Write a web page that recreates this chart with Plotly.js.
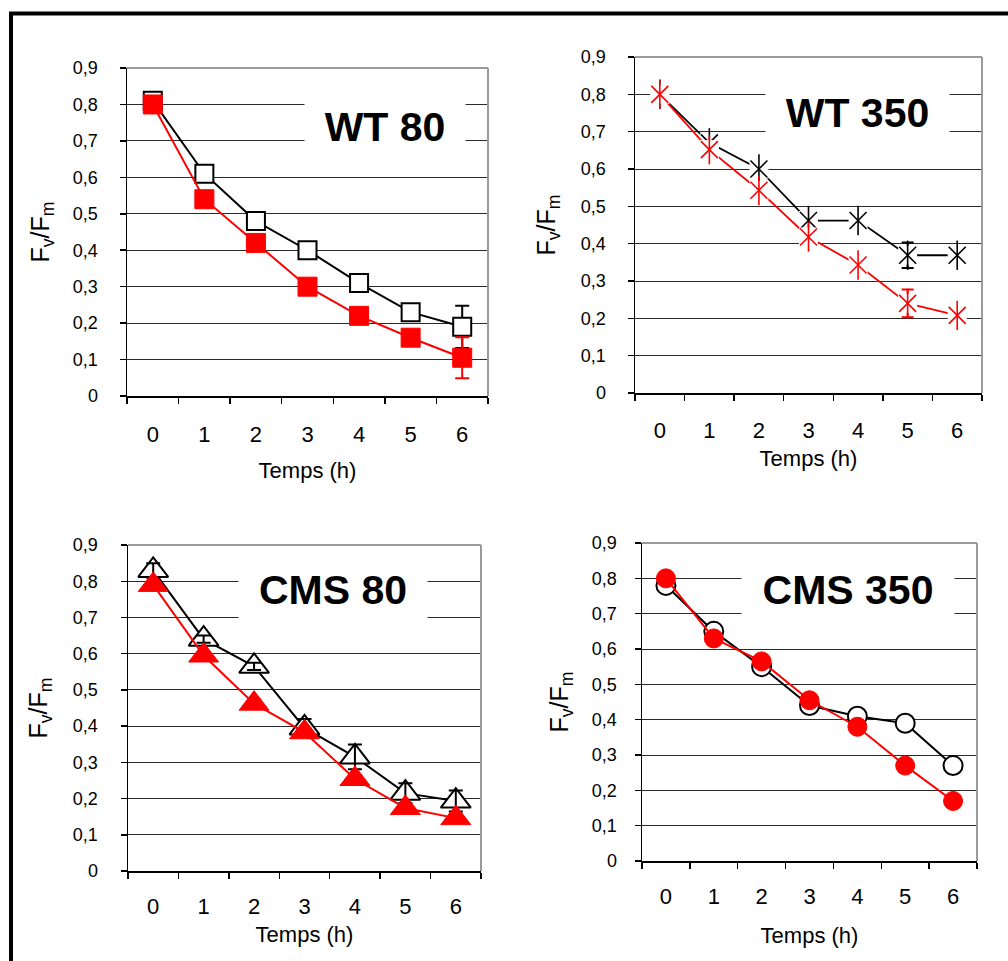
<!DOCTYPE html>
<html>
<head>
<meta charset="utf-8">
<script src="https://cdn.plot.ly/plotly-3.0.1.min.js"></script>
<style>html,body{margin:0;padding:0;background:#fff;}#chart{width:1008px;height:961px;}</style>
</head>
<body>
<div id="chart"></div>
<script>
// ---- data ----
var hours = [0, 1, 2, 3, 4, 5, 6];
var hourLabels = ['0', '1', '2', '3', '4', '5', '6'];
var panelTitles = ['WT 80', 'WT 350', 'CMS 80', 'CMS 350'];
var xTitle = 'Temps (h)';
var yTitle = 'F<sub>v</sub>/F<sub>m</sub>';

var wt80Black = [0.81, 0.61, 0.48, 0.40, 0.31, 0.23, 0.19];
var wt80BlackErr = [0.01, 0.01, 0.01, 0.01, 0.01, 0.01, 0.058];
var wt80Red = [0.80, 0.54, 0.42, 0.30, 0.22, 0.16, 0.105];
var wt80RedErr = [0.01, 0.01, 0.01, 0.01, 0.01, 0.01, 0.056];

var wt350Black = [0.80, 0.67, 0.60, 0.462, 0.462, 0.369, 0.369];
var wt350BlackErr = [0.005, 0.01, 0.01, 0.01, 0.01, 0.034, 0.01];
var wt350Red = [0.80, 0.652, 0.543, 0.418, 0.343, 0.24, 0.208];
var wt350RedErr = [0.005, 0.01, 0.01, 0.01, 0.01, 0.037, 0.01];

var cms80Black = [0.83, 0.64, 0.565, 0.395, 0.315, 0.215, 0.193];
var cms80BlackErr = [0.02, 0.01, 0.01, 0.025, 0.034, 0.027, 0.029];
var cms80Red = [0.79, 0.595, 0.462, 0.383, 0.254, 0.174, 0.146];
var cms80RedErr = [0.01, 0.01, 0.012, 0.01, 0.01, 0.01, 0.01];

var cms350Black = [0.78, 0.65, 0.55, 0.44, 0.41, 0.39, 0.27];
var cms350BlackErr = [0.01, 0.01, 0.01, 0.01, 0.01, 0.015, 0.015];
var cms350Red = [0.80, 0.63, 0.565, 0.455, 0.38, 0.27, 0.17];
var cms350RedErr = [0.01, 0.01, 0.01, 0.01, 0.015, 0.015, 0.015];

// ---- styling ----
var FONT = 'Arial, "Liberation Sans", Helvetica, sans-serif';
var RED = '#ff0000';
var W = 1008, H = 961;
function dx(a, b) { return [a / W, b / W]; }
function dy(top, bottom) { return [1 - bottom / H, 1 - top / H]; }

var boundaries = hours.map(function (h) { return h - 0.5; }).concat([hours[hours.length - 1] + 0.5]);

function xAxis(domain, anchor, lblStandoff, titleStandoff) {
  return {
    domain: domain, anchor: anchor, range: [-0.5, 6.5],
    tickmode: 'array', tickvals: hours, ticktext: hourLabels, ticks: '',
    showgrid: false, zeroline: false, showline: true, linecolor: '#000', linewidth: 1.5,
    tickfont: { size: 22, family: FONT, color: '#000' }, ticklabelstandoff: lblStandoff,
    minor: { tickmode: 'array', tickvals: boundaries, ticks: 'outside', ticklen: 6, tickwidth: 1.5, tickcolor: '#000', showgrid: false },
    title: { text: xTitle, font: { size: 22, family: FONT, color: '#000' }, standoff: titleStandoff },
    fixedrange: true
  };
}
function yAxis(domain, anchor, lblStandoff, titleStandoff) {
  return {
    domain: domain, anchor: anchor, range: [0, 0.9001], tick0: 0, dtick: 0.1,
    ticks: 'outside', ticklen: 6, tickwidth: 1.5, tickcolor: '#000',
    showline: true, linecolor: '#000', linewidth: 1.5, zeroline: false,
    showgrid: true, gridcolor: '#2a2a2a', gridwidth: 1,
    tickfont: { size: 18, family: FONT, color: '#000' }, ticklabelstandoff: lblStandoff,
    title: { text: yTitle, font: { size: 25, family: FONT, color: '#000' }, standoff: titleStandoff },
    fixedrange: true
  };
}

function errObj(arr, color, visibleW) {
  return { type: 'data', array: arr, visible: true, color: color, thickness: 2, width: visibleW };
}

var traces = [];
function base(xa, ya) { return { x: hours, xaxis: xa, yaxis: ya, showlegend: false, hoverinfo: 'skip', type: 'scatter' }; }

// Panel 1: WT 80 (squares)
traces.push(Object.assign(base('x', 'y'), { y: wt80Black, mode: 'lines+markers', line: { color: '#000', width: 2 },
  marker: { symbol: 'square', size: 18, color: '#fff', line: { color: '#000', width: 2 } }, error_y: errObj(wt80BlackErr, '#000', 7) }));
traces.push(Object.assign(base('x', 'y'), { y: wt80Red, mode: 'lines+markers', line: { color: RED, width: 2 },
  marker: { symbol: 'square', size: 19, color: RED, line: { color: RED, width: 1 } }, error_y: errObj(wt80RedErr, RED, 7) }));

// Panel 2: WT 350 (asterisks with white box behind)
function asteriskSeries(yvals, errs, color) {
  traces.push(Object.assign(base('x2', 'y2'), { y: yvals, mode: 'lines+markers', line: { color: color, width: 1.8 },
    marker: { symbol: 'square', size: 19, color: '#fff', line: { width: 0 } }, error_y: errObj(errs, color, 6) }));
  traces.push(Object.assign(base('x2', 'y2'), { y: yvals, mode: 'markers',
    marker: { symbol: 'x-thin-open', size: 17, color: color, line: { color: color, width: 1.6 } } }));
  traces.push(Object.assign(base('x2', 'y2'), { y: yvals, mode: 'markers',
    marker: { symbol: 'line-ns-open', size: 21, color: color, line: { color: color, width: 1.6 } } }));
}
asteriskSeries(wt350Black, wt350BlackErr, '#000');
asteriskSeries(wt350Red, wt350RedErr, RED);

// Panel 3: CMS 80 (triangles)
traces.push(Object.assign(base('x3', 'y3'), { y: cms80Black, mode: 'lines+markers', line: { color: '#000', width: 2 },
  marker: { symbol: 'triangle-up', size: 26, color: '#fff', line: { color: '#000', width: 2 } } }));
traces.push(Object.assign(base('x3', 'y3'), { y: cms80Black, mode: 'markers',
  marker: { size: 1, color: 'rgba(0,0,0,0)' }, error_y: errObj(cms80BlackErr, '#000', 7) }));
traces.push(Object.assign(base('x3', 'y3'), { y: cms80Red, mode: 'lines+markers', line: { color: RED, width: 2 },
  marker: { symbol: 'triangle-up', size: 26, color: RED, line: { color: RED, width: 1 } } }));
traces.push(Object.assign(base('x3', 'y3'), { y: cms80Red, mode: 'markers',
  marker: { size: 1, color: 'rgba(0,0,0,0)' }, error_y: errObj(cms80RedErr, RED, 7) }));

// Panel 4: CMS 350 (circles)
traces.push(Object.assign(base('x4', 'y4'), { y: cms350Black, mode: 'lines+markers', line: { color: '#000', width: 2 },
  marker: { symbol: 'circle', size: 19, color: '#fff', line: { color: '#000', width: 2 } }, error_y: errObj(cms350BlackErr, '#000', 4) }));
traces.push(Object.assign(base('x4', 'y4'), { y: cms350Red, mode: 'lines+markers', line: { color: RED, width: 2 },
  marker: { symbol: 'circle', size: 19, color: RED, line: { color: RED, width: 1 } }, error_y: errObj(cms350RedErr, RED, 4) }));

// ---- layout ----
var panels = [
  { xa: 'x', ya: 'y', x: dx(127, 488), y: dy(68, 396), tx: 0.715, ty: 0.82, bw: 158, bh: 56 },
  { xa: 'x2', ya: 'y2', x: dx(635, 982), y: dy(57, 393), tx: 0.64, ty: 0.833, bw: 181, bh: 52 },
  { xa: 'x3', ya: 'y3', x: dx(128, 481), y: dy(545, 871), tx: 0.581, ty: 0.862, bw: 186, bh: 60 },
  { xa: 'x4', ya: 'y4', x: dx(642, 977), y: dy(543, 861), tx: 0.615, ty: 0.852, bw: 210, bh: 56 }
];
var xLbl = [18, 17, 15, 15], xTs = [16, 8, 8, 19];
var yLbl = [18, 18, 19, 14], yTs = [16, 18, 18, 16];

var layout = {
  width: W, height: H, margin: { l: 0, r: 0, t: 0, b: 0 },
  paper_bgcolor: '#fff', plot_bgcolor: '#fff', showlegend: false,
  separators: ',.', font: { family: FONT, color: '#000' },
  shapes: [], annotations: []
};
panels.forEach(function (p, i) {
  var xk = 'xaxis' + (i ? i + 1 : ''), yk = 'yaxis' + (i ? i + 1 : '');
  layout[xk] = xAxis(p.x, p.ya, xLbl[i], xTs[i]);
  layout[yk] = yAxis(p.y, p.xa, yLbl[i], yTs[i]);
  layout.shapes.push({ type: 'line', xref: p.xa + ' domain', yref: p.ya + ' domain', x0: 0, x1: 1, y0: 1, y1: 1, line: { color: '#9a9a9a', width: 2 } });
  layout.shapes.push({ type: 'line', xref: p.xa + ' domain', yref: p.ya + ' domain', x0: 1, x1: 1, y0: 0, y1: 1, line: { color: '#9a9a9a', width: 2 } });
  layout.annotations.push({ xref: p.xa + ' domain', yref: p.ya + ' domain', x: p.tx, y: p.ty, xanchor: 'center', yanchor: 'middle',
    text: '<b>' + panelTitles[i] + '</b>', showarrow: false, bgcolor: '#fff', width: p.bw, height: p.bh,
    font: { size: 41, family: FONT, color: '#000' } });
});
// outer frame (top and left)
layout.shapes.push({ type: 'line', xref: 'paper', yref: 'paper', x0: 9 / W, x1: 1, y0: 1 - 13.5 / H, y1: 1 - 13.5 / H, line: { color: '#000', width: 4 } });
layout.shapes.push({ type: 'line', xref: 'paper', yref: 'paper', x0: 11 / W, x1: 11 / W, y0: 1 - 12 / H, y1: 0, line: { color: '#000', width: 4 } });

Plotly.newPlot('chart', traces, layout, { displayModeBar: false, staticPlot: true });
</script>
</body>
</html>
